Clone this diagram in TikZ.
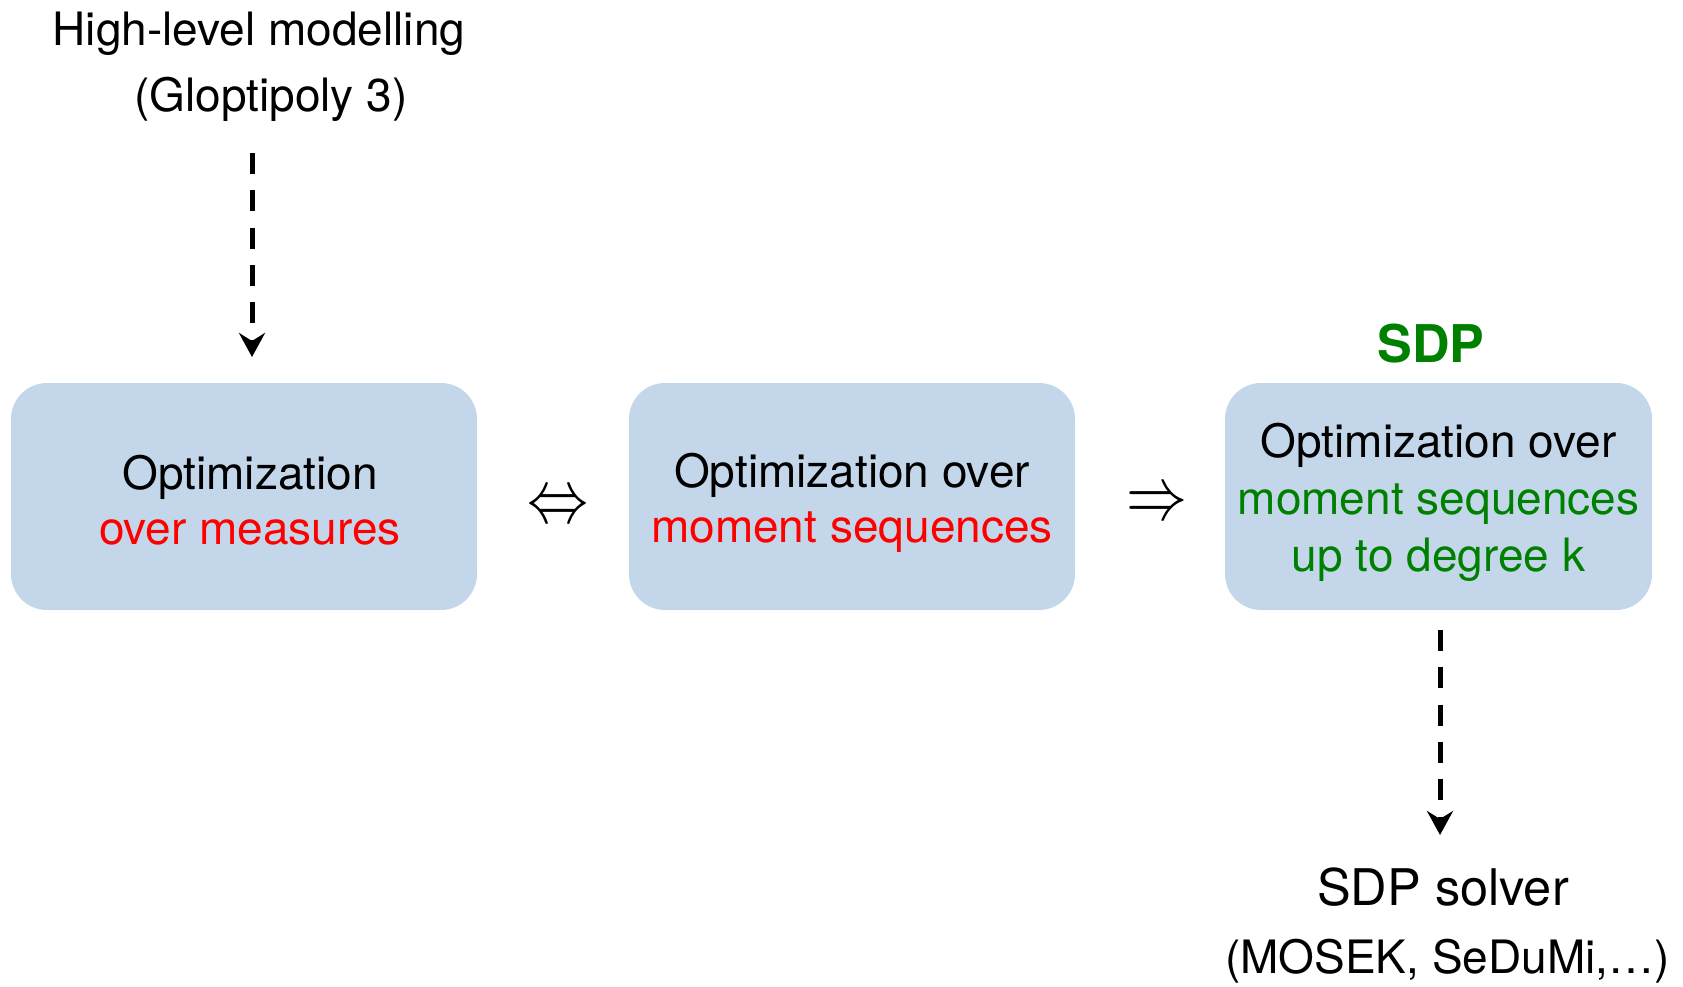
\documentclass[tikz,border=0pt]{standalone}
\usepackage{fontspec}
\setmainfont{TeX Gyre Heros}
\usepackage{graphicx}
\usetikzlibrary{arrows.meta}
\definecolor{boxfill}{RGB}{196,215,234}
\definecolor{myred}{RGB}{255,0,0}
\definecolor{mygreen}{RGB}{0,128,0}
% #1 raise of first baseline above box centre, #2 line spacing, #3 lines
\newcommand{\boxlines}[3]{\raisebox{#1}[0pt][0pt]{\fontsize{46}{#2}\selectfont\begin{tabular}[t]{@{}c@{}}#3\end{tabular}}}
\begin{document}
\begin{tikzpicture}[x=1pt,y=-1pt,
  box/.style={fill=boxfill, rounded corners=36pt, inner sep=0pt, minimum height=227pt},
  lbl/.style={anchor=base, inner sep=0pt, font=\fontsize{46}{56}\selectfont},
  dasharrow/.style={line width=5pt, dash pattern=on 21pt off 16.3pt, -{Stealth[length=24pt,width=26pt,inset=8pt]}},
  sym/.style={inner sep=0pt}]
\useasboundingbox (0,0) rectangle (1683,987);

\node[box, minimum width=466pt] (b1) at (244,496.5)
  {\hspace*{12pt}\boxlines{7.5pt}{55pt}{Optimization\\\textcolor{myred}{over measures}}};
\node[box, minimum width=446pt] (b2) at (852,496.5)
  {\boxlines{9.5pt}{55pt}{Optimization over\\\textcolor{myred}{moment sequences}}};
\node[box, minimum width=427pt] (b3) at (1438.5,496.5)
  {\boxlines{39.5pt}{57pt}{Optimization over\\\textcolor{mygreen}{moment sequences}\\\textcolor{mygreen}{up to degree k}}};

\node[lbl] (hl1) at (259,46) {High-level modelling};
\node[lbl] (hl2) at (271,112) {(Gloptipoly 3)};
\node[lbl, font=\fontsize{52}{60}\selectfont\bfseries, text=mygreen] (sdp) at (1431,362) {SDP};
\node[lbl, font=\fontsize{50.5}{60}\selectfont] (solver) at (1443,905) {SDP solver};
\node[lbl] (mosek) at (1447.5,973) {(MOSEK, SeDuMi,\dots)};

\node[sym] (eq) at (558,509) {\scalebox{6.1}[7.6]{$\Leftrightarrow$}};
\node[sym] (imp) at (1157,506) {\scalebox{6.1}[7.6]{$\Rightarrow$}};

\coordinate (a1s) at (252,153);
\coordinate (a1e) at (252,357);
\coordinate (a2s) at (1440,630);
\coordinate (a2e) at (1440,835);
\draw[dasharrow] (a1s) -- (a1e);
\draw[dasharrow] (a2s) -- (a2e);
\end{tikzpicture}
\end{document}
